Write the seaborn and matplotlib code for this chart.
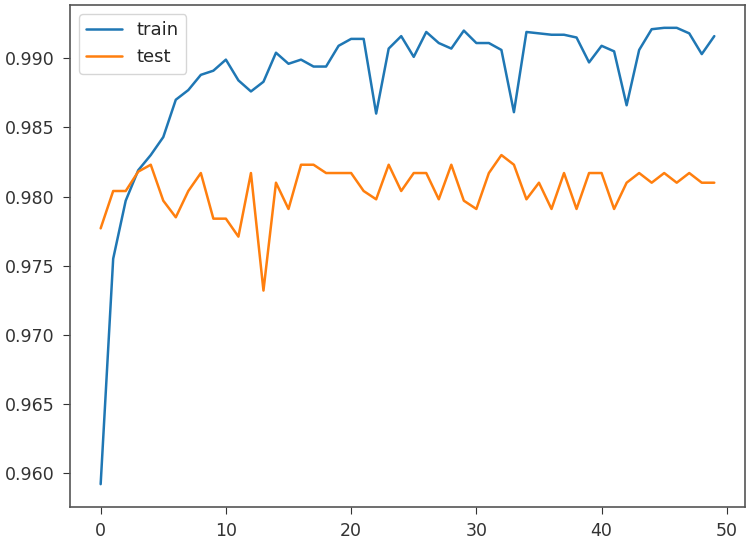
import numpy as np
import pandas as pd
import matplotlib
matplotlib.use("Agg")
import matplotlib.pyplot as plt
import seaborn as sns

# accuracy per epoch
train_acc = [0.9592, 0.9755, 0.9797, 0.9819, 0.9830, 0.9843, 0.9870, 0.9877, 0.9888, 0.9891,
             0.9899, 0.9884, 0.9876, 0.9883, 0.9904, 0.9896, 0.9899, 0.9894, 0.9894, 0.9909,
             0.9914, 0.9914, 0.9860, 0.9907, 0.9916, 0.9901, 0.9919, 0.9911, 0.9907, 0.9920,
             0.9911, 0.9911, 0.9906, 0.9861, 0.9919, 0.9918, 0.9917, 0.9917, 0.9915, 0.9897,
             0.9909, 0.9905, 0.9866, 0.9906, 0.9921, 0.9922, 0.9922, 0.9918, 0.9903, 0.9916]
test_acc = [0.9777, 0.9804, 0.9804, 0.9818, 0.9823, 0.9797, 0.9785, 0.9804, 0.9817, 0.9784,
            0.9784, 0.9771, 0.9817, 0.9732, 0.9810, 0.9791, 0.9823, 0.9823, 0.9817, 0.9817,
            0.9817, 0.9804, 0.9798, 0.9823, 0.9804, 0.9817, 0.9817, 0.9798, 0.9823, 0.9797,
            0.9791, 0.9817, 0.9830, 0.9823, 0.9798, 0.9810, 0.9791, 0.9817, 0.9791, 0.9817,
            0.9817, 0.9791, 0.9810, 0.9817, 0.9810, 0.9817, 0.9810, 0.9817, 0.9810, 0.9810]
epochs = list(range(len(train_acc)))

df = pd.DataFrame({
    "epoch": epochs * 2,
    "acc": train_acc + test_acc,
    "set": ["train"] * len(epochs) + ["test"] * len(epochs),
})

sns.set_style("ticks")
plt.rcParams["font.family"] = ["DejaVu Sans"]

fig = plt.figure(figsize=(7.5, 5.39), dpi=100)
ax = fig.add_axes([0.0933, 0.0594, 0.9, 0.9313])

sns.lineplot(data=df, x="epoch", y="acc", hue="set",
             palette=["#1f77b4", "#ff7f0e"], linewidth=1.8, ax=ax)

ax.set_xlabel("")
ax.set_ylabel("")
ax.set_yticks([0.960, 0.965, 0.970, 0.975, 0.980, 0.985, 0.990])
ax.set_yticklabels([f"{t:.3f}" for t in ax.get_yticks()])
ax.tick_params(labelsize=12.5, colors="#333333", length=5, pad=6)
for s in ax.spines.values():
    s.set_color("#555555")
    s.set_linewidth(1.2)

leg = ax.legend(loc="upper left", fontsize=13, frameon=True, handlelength=2.0)
leg.get_frame().set_edgecolor("#cccccc")

fig.savefig("out.png", dpi=100)
